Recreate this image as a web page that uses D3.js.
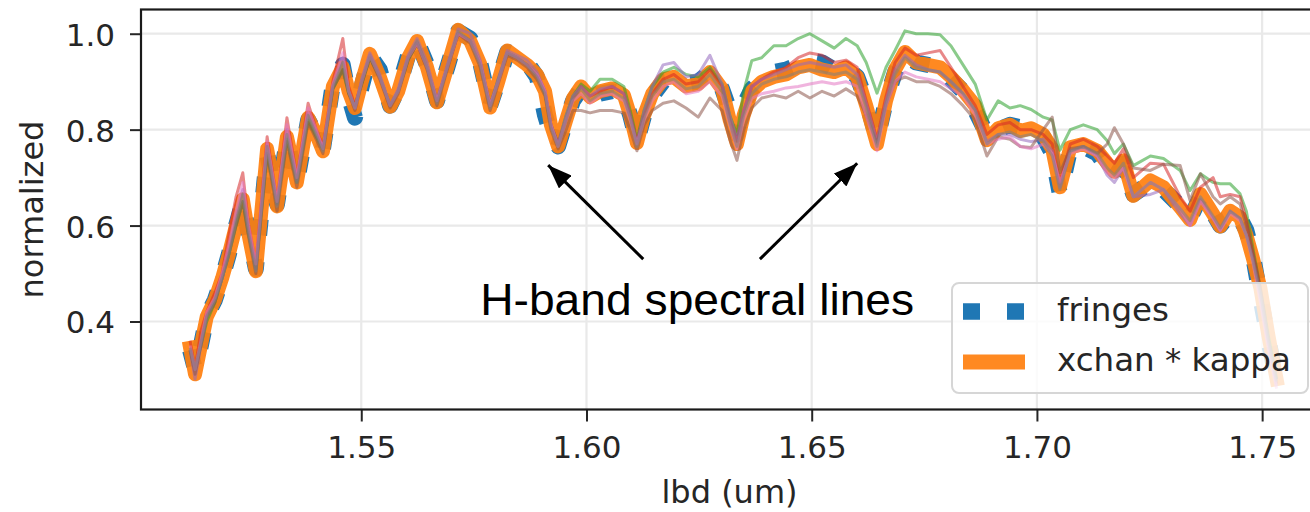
<!DOCTYPE html>
<html><head><meta charset="utf-8">
<script src="https://cdn.jsdelivr.net/npm/d3@7"></script>
<style>html,body{margin:0;padding:0;background:#fff;} svg{display:block;}</style>
</head><body><svg id="c" width="1310" height="512"></svg>
<script>
// wavelengths (um)
const lbd = [1.5120,1.5131,1.5144,1.5157,1.5175,1.5191,1.5206,1.5222,1.5237,1.5250,
 1.5266,1.5291,1.5313,1.5335,1.5357,1.5382,1.5400,1.5415,1.5437,1.5459,
 1.5472,1.5486,1.5501,1.5519,1.5541,1.5564,1.5582,1.5604,1.5624,1.5646,
 1.5668,1.5691,1.5715,1.5742,1.5764,1.5786,1.5804,1.5824,1.5846,1.5868,
 1.5890,1.5908,1.5921,1.5937,1.5955,1.5970,1.5988,1.6008,1.6030,1.6057,
 1.6083,1.6097,1.6112,1.6128,1.6146,1.6170,1.6194,1.6221,1.6248,1.6274,
 1.6301,1.6318,1.6334,1.6349,1.6367,1.6389,1.6416,1.6443,1.6470,1.6496,
 1.6523,1.6550,1.6576,1.6601,1.6621,1.6645,1.6665,1.6685,1.6707,1.6732,
 1.6758,1.6785,1.6809,1.6836,1.6863,1.6889,1.6914,1.6940,1.6963,1.6987,
 1.7014,1.7034,1.7051,1.7074,1.7103,1.7134,1.7156,1.7172,1.7192,1.7214,
 1.7252,1.7281,1.7318,1.7340,1.7363,1.7391,1.7407,1.7429,1.7451,1.7465,
 1.7480,1.7496,1.7514,1.7532];

const fringes = [0.34,0.30,0.35,0.41,0.445,0.49,0.54,0.60,0.65,0.58,
 0.51,0.75,0.645,0.78,0.69,0.82,0.79,0.76,0.895,0.935,
 0.87,0.825,0.89,0.955,0.925,0.85,0.885,0.955,0.985,0.935,
 0.86,0.93,1.005,0.99,0.94,0.85,0.90,0.962,0.955,0.94,
 0.91,0.83,0.79,0.765,0.82,0.86,0.885,0.865,0.875,0.88,
 0.87,0.83,0.775,0.83,0.87,0.90,0.905,0.895,0.90,0.92,
 0.885,0.84,0.79,0.85,0.885,0.905,0.92,0.925,0.935,0.945,
 0.94,0.925,0.93,0.91,0.86,0.78,0.86,0.92,0.955,0.94,
 0.935,0.93,0.905,0.88,0.84,0.79,0.80,0.81,0.805,0.80,
 0.785,0.75,0.665,0.76,0.765,0.75,0.72,0.70,0.73,0.665,
 0.69,0.675,0.64,0.615,0.66,0.625,0.60,0.625,0.615,0.59,
 0.535,0.45,0.36,0.28];

const xchanKappa = [0.345,0.29,0.35,0.41,0.445,0.49,0.54,0.60,0.655,0.58,
 0.505,0.76,0.64,0.785,0.69,0.825,0.79,0.755,0.89,0.93,
 0.88,0.845,0.90,0.958,0.91,0.848,0.88,0.95,0.985,0.93,
 0.857,0.93,1.008,0.985,0.937,0.846,0.90,0.965,0.95,0.935,
 0.915,0.88,0.81,0.765,0.82,0.865,0.89,0.868,0.88,0.886,
 0.872,0.83,0.772,0.83,0.875,0.905,0.91,0.89,0.895,0.92,
 0.885,0.82,0.77,0.83,0.88,0.90,0.91,0.915,0.93,0.935,
 0.925,0.92,0.93,0.91,0.85,0.77,0.86,0.925,0.962,0.94,
 0.935,0.93,0.91,0.882,0.85,0.778,0.803,0.81,0.797,0.803,
 0.79,0.76,0.68,0.763,0.77,0.756,0.73,0.712,0.736,0.662,
 0.694,0.68,0.638,0.612,0.666,0.624,0.598,0.631,0.617,0.58,
 0.53,0.47,0.37,0.28];

const chanGreen = [0.34,0.30,0.35,0.40,0.44,0.49,0.54,0.60,0.65,0.58,
 0.51,0.75,0.645,0.78,0.69,0.82,0.785,0.76,0.885,0.925,
 0.875,0.85,0.895,0.95,0.91,0.85,0.88,0.945,0.98,0.93,
 0.86,0.93,1.0,0.985,0.94,0.85,0.905,0.96,0.95,0.935,
 0.915,0.875,0.81,0.77,0.83,0.87,0.895,0.88,0.905,0.905,
 0.89,0.84,0.78,0.84,0.89,0.92,0.93,0.915,0.91,0.93,
 0.895,0.83,0.79,0.88,0.944,0.95,0.975,0.975,0.99,1.0,
 0.985,0.97,0.99,0.975,0.94,0.876,0.93,0.965,1.006,1.0,
 1.0,0.998,0.975,0.935,0.895,0.82,0.86,0.845,0.85,0.842,
 0.826,0.82,0.757,0.80,0.81,0.80,0.777,0.75,0.77,0.725,
 0.745,0.74,0.715,0.673,0.708,0.69,0.687,0.687,0.666,0.63,
 0.55,0.47,0.37,0.28];

const chanRed = [0.36,0.30,0.38,0.42,0.46,0.50,0.58,0.66,0.71,0.60,
 0.52,0.785,0.65,0.825,0.70,0.855,0.80,0.765,0.90,0.99,
 0.89,0.85,0.90,0.955,0.91,0.85,0.88,0.95,0.98,0.93,
 0.86,0.93,1.0,0.985,0.94,0.85,0.90,0.96,0.95,0.935,
 0.915,0.88,0.81,0.77,0.82,0.865,0.89,0.87,0.88,0.89,
 0.875,0.83,0.775,0.83,0.875,0.905,0.915,0.895,0.90,0.925,
 0.89,0.82,0.775,0.84,0.89,0.905,0.92,0.93,0.95,0.96,
 0.955,0.94,0.945,0.93,0.86,0.78,0.87,0.94,0.97,0.955,
 0.96,0.965,0.93,0.89,0.85,0.79,0.81,0.815,0.80,0.80,
 0.79,0.77,0.69,0.77,0.78,0.765,0.745,0.73,0.76,0.70,
 0.73,0.728,0.66,0.63,0.68,0.70,0.66,0.665,0.66,0.61,
 0.54,0.47,0.36,0.27];

const chanPurple = [0.34,0.28,0.35,0.41,0.445,0.49,0.55,0.62,0.675,0.59,
 0.51,0.77,0.645,0.80,0.695,0.835,0.795,0.76,0.89,0.95,
 0.88,0.845,0.905,0.96,0.915,0.85,0.885,0.955,0.99,0.94,
 0.86,0.935,1.01,1.0,0.945,0.85,0.905,0.965,0.955,0.945,
 0.92,0.88,0.81,0.77,0.83,0.87,0.89,0.87,0.885,0.89,
 0.875,0.83,0.77,0.84,0.89,0.935,0.94,0.91,0.915,0.955,
 0.895,0.83,0.78,0.84,0.89,0.905,0.915,0.925,0.935,0.94,
 0.935,0.93,0.935,0.915,0.855,0.775,0.86,0.925,0.955,0.935,
 0.925,0.92,0.90,0.875,0.84,0.775,0.79,0.79,0.78,0.775,
 0.78,0.755,0.68,0.755,0.765,0.745,0.705,0.69,0.72,0.66,
 0.665,0.675,0.625,0.60,0.655,0.615,0.59,0.63,0.615,0.58,
 0.53,0.45,0.35,0.265];

const chanBrown = [0.34,0.29,0.35,0.41,0.44,0.49,0.54,0.60,0.65,0.575,
 0.50,0.75,0.63,0.775,0.68,0.815,0.78,0.75,0.885,0.925,
 0.875,0.84,0.895,0.95,0.905,0.845,0.875,0.945,0.98,0.925,
 0.85,0.925,1.0,0.98,0.93,0.84,0.895,0.955,0.945,0.93,
 0.905,0.87,0.80,0.76,0.80,0.84,0.84,0.835,0.84,0.84,
 0.835,0.80,0.756,0.81,0.84,0.855,0.86,0.845,0.826,0.866,
 0.84,0.78,0.736,0.80,0.845,0.866,0.872,0.866,0.88,0.866,
 0.88,0.87,0.885,0.87,0.83,0.77,0.85,0.90,0.91,0.90,
 0.90,0.89,0.875,0.85,0.82,0.745,0.785,0.78,0.765,0.763,
 0.80,0.826,0.71,0.76,0.765,0.75,0.77,0.804,0.77,0.72,
 0.715,0.728,0.725,0.652,0.708,0.66,0.645,0.66,0.645,0.60,
 0.54,0.46,0.36,0.28];

const chanPink = [0.35,0.30,0.36,0.42,0.45,0.50,0.56,0.63,0.69,0.60,
 0.52,0.775,0.65,0.81,0.70,0.845,0.80,0.76,0.895,0.96,
 0.88,0.845,0.90,0.955,0.91,0.85,0.88,0.95,0.98,0.93,
 0.86,0.93,1.0,0.985,0.94,0.85,0.90,0.96,0.95,0.935,
 0.915,0.88,0.81,0.765,0.82,0.86,0.875,0.855,0.87,0.875,
 0.86,0.82,0.77,0.82,0.86,0.89,0.90,0.875,0.88,0.90,
 0.87,0.81,0.76,0.82,0.865,0.875,0.88,0.887,0.89,0.895,
 0.90,0.895,0.90,0.89,0.83,0.756,0.85,0.90,0.92,0.91,
 0.905,0.90,0.885,0.87,0.83,0.77,0.78,0.785,0.765,0.76,
 0.77,0.75,0.69,0.75,0.76,0.745,0.71,0.70,0.72,0.66,
 0.69,0.675,0.635,0.60,0.65,0.615,0.59,0.625,0.61,0.58,
 0.52,0.44,0.34,0.26];

const chanGray = [0.345,0.30,0.355,0.41,0.445,0.49,0.54,0.61,0.665,0.585,
 0.505,0.765,0.64,0.79,0.69,0.83,0.79,0.755,0.89,0.94,
 0.88,0.845,0.90,0.955,0.91,0.85,0.88,0.95,0.985,0.93,
 0.855,0.93,1.005,0.985,0.935,0.845,0.90,0.96,0.95,0.935,
 0.91,0.875,0.805,0.765,0.82,0.865,0.885,0.86,0.875,0.88,
 0.865,0.825,0.765,0.825,0.87,0.90,0.905,0.885,0.89,0.915,
 0.88,0.815,0.765,0.83,0.875,0.895,0.905,0.91,0.92,0.925,
 0.92,0.915,0.92,0.905,0.845,0.765,0.855,0.915,0.95,0.93,
 0.925,0.92,0.90,0.875,0.84,0.77,0.79,0.795,0.785,0.79,
 0.775,0.745,0.675,0.755,0.765,0.75,0.72,0.705,0.73,0.66,
 0.69,0.675,0.635,0.61,0.66,0.62,0.595,0.63,0.615,0.58,
 0.525,0.46,0.36,0.275];

const xTicks = [1.55, 1.60, 1.65, 1.70, 1.75];
const yTicks = [0.4, 0.6, 0.8, 1.0];
const legendLabels = ["fringes", "xchan * kappa"];
const annotationText = "H-band spectral lines";
// arrow tails/tips in data coordinates [lbd, value]
const arrowTails = [[1.6126, 0.530], [1.6385, 0.530]];
const arrowTips  = [[1.5915, 0.726], [1.6601, 0.730]];
const annotationAnchor = [1.5764, 0.4135];

const svg = d3.select("#c");
const L = 141, R = 1318, T = 9.5, B = 409.5;
const x = d3.scaleLinear().domain([1.5011, 1.7624]).range([L, R]);
const y = d3.scaleLinear().domain([0.2165, 1.0505]).range([B, T]);
const txt = "#262626";
const font = "'DejaVu Sans', sans-serif";

svg.append("rect").attr("width", 1310).attr("height", 512).attr("fill", "#fff");

svg.append("defs").append("clipPath").attr("id", "clip")
  .append("rect").attr("x", L).attr("y", T).attr("width", R - L).attr("height", B - T);

// grid
const grid = svg.append("g");
grid.selectAll(".gx").data(xTicks).join("line")
  .attr("x1", d => x(d)).attr("x2", d => x(d)).attr("y1", T).attr("y2", B)
  .attr("stroke", "#e9e9e9").attr("stroke-width", 2.2);
grid.selectAll(".gy").data(yTicks).join("line")
  .attr("y1", d => y(d)).attr("y2", d => y(d)).attr("x1", L).attr("x2", R)
  .attr("stroke", "#e9e9e9").attr("stroke-width", 2.2);

const plot = svg.append("g").attr("clip-path", "url(#clip)");
const line = d3.line().x((d, i) => x(lbd[i])).y(d => y(d));

plot.append("path").datum(fringes).attr("d", line)
  .attr("fill", "none").attr("stroke", "#1f77b4").attr("stroke-width", 16)
  .attr("stroke-dasharray", "16,26.4").attr("stroke-linejoin", "round").attr("stroke-linecap", "butt");
plot.append("path").datum(xchanKappa).attr("d", line)
  .attr("fill", "none").attr("stroke", "#ff7f0e").attr("stroke-opacity", 0.92).attr("stroke-width", 14)
  .attr("stroke-linejoin", "round").attr("stroke-linecap", "square");

const thin = [
  [chanGreen, "#2ca02c"], [chanRed, "#d62728"], [chanPurple, "#9467bd"],
  [chanBrown, "#8c564b"], [chanPink, "#e377c2"], [chanGray, "#7f7f7f"]
];
thin.forEach(([s, c]) => {
  plot.append("path").datum(s).attr("d", line)
    .attr("fill", "none").attr("stroke", c).attr("stroke-opacity", 0.55).attr("stroke-width", 3)
    .attr("stroke-linejoin", "round");
});

// axes
const xAxis = svg.append("g").attr("transform", `translate(0,${B})`)
  .call(d3.axisBottom(x).tickValues(xTicks).tickFormat(d3.format(".2f")).tickSize(12).tickPadding(14));
const yAxis = svg.append("g").attr("transform", `translate(${L},0)`)
  .call(d3.axisLeft(y).tickValues(yTicks).tickFormat(d3.format(".1f")).tickSize(11).tickPadding(15));
[xAxis, yAxis].forEach(a => {
  a.select(".domain").remove();
  a.selectAll(".tick line").attr("stroke", txt).attr("stroke-width", 2);
  a.selectAll(".tick text").attr("fill", txt).style("font-family", font).style("font-size", "31px");
});
yAxis.selectAll(".tick text").attr("dy", "0.37em");

// spines
svg.append("rect").attr("x", L).attr("y", T).attr("width", R - L).attr("height", B - T)
  .attr("fill", "none").attr("stroke", "#1a1a1a").attr("stroke-width", 2.2);

// axis labels
svg.append("text").attr("x", (L + R) / 2).attr("y", 503).attr("text-anchor", "middle")
  .style("font-family", font).style("font-size", "32px").attr("fill", txt).text("lbd (um)");
svg.append("text").attr("transform", `translate(43,${(T + B) / 2}) rotate(-90)`).attr("text-anchor", "middle")
  .style("font-family", font).style("font-size", "32px").attr("fill", txt).text("normalized");

// legend
const lg = svg.append("g");
lg.append("rect").attr("x", 952).attr("y", 283).attr("width", 356).attr("height", 110).attr("rx", 7)
  .attr("fill", "#fff").attr("fill-opacity", 0.8).attr("stroke", "#d6d6d6").attr("stroke-width", 2);
lg.append("line").attr("x1", 963).attr("x2", 1025).attr("y1", 311.5).attr("y2", 311.5)
  .attr("stroke", "#1f77b4").attr("stroke-width", 16.5).attr("stroke-dasharray", "17,27");
lg.append("line").attr("x1", 963).attr("x2", 1025).attr("y1", 362).attr("y2", 362)
  .attr("stroke", "#ff7f0e").attr("stroke-opacity", 0.92).attr("stroke-width", 15);
lg.selectAll(".lt").data(legendLabels).join("text")
  .attr("x", 1057).attr("y", (d, i) => 321 + i * 50)
  .style("font-family", font).style("font-size", "32.5px").attr("fill", txt).text(d => d);

// annotation
const defs = svg.select("defs");
defs.append("marker").attr("id", "ah").attr("markerUnits", "userSpaceOnUse")
  .attr("viewBox", "0 0 24 18").attr("refX", 24).attr("refY", 9)
  .attr("markerWidth", 24).attr("markerHeight", 18).attr("orient", "auto")
  .append("path").attr("d", "M0,0 L24,9 L0,18 Z").attr("fill", "#000");
svg.selectAll(".arrow").data(arrowTails).join("line")
  .attr("x1", d => x(d[0])).attr("y1", d => y(d[1]))
  .attr("x2", (d, i) => x(arrowTips[i][0])).attr("y2", (d, i) => y(arrowTips[i][1]))
  .attr("stroke", "#000").attr("stroke-width", 3).attr("marker-end", "url(#ah)");
svg.append("text").attr("x", x(annotationAnchor[0])).attr("y", y(annotationAnchor[1]))
  .style("font-family", "'Liberation Sans', Arial, sans-serif").style("font-size", "45px")
  .attr("textLength", 434).attr("lengthAdjust", "spacingAndGlyphs")
  .attr("fill", "#000").text(annotationText);
</script>
</body></html>
